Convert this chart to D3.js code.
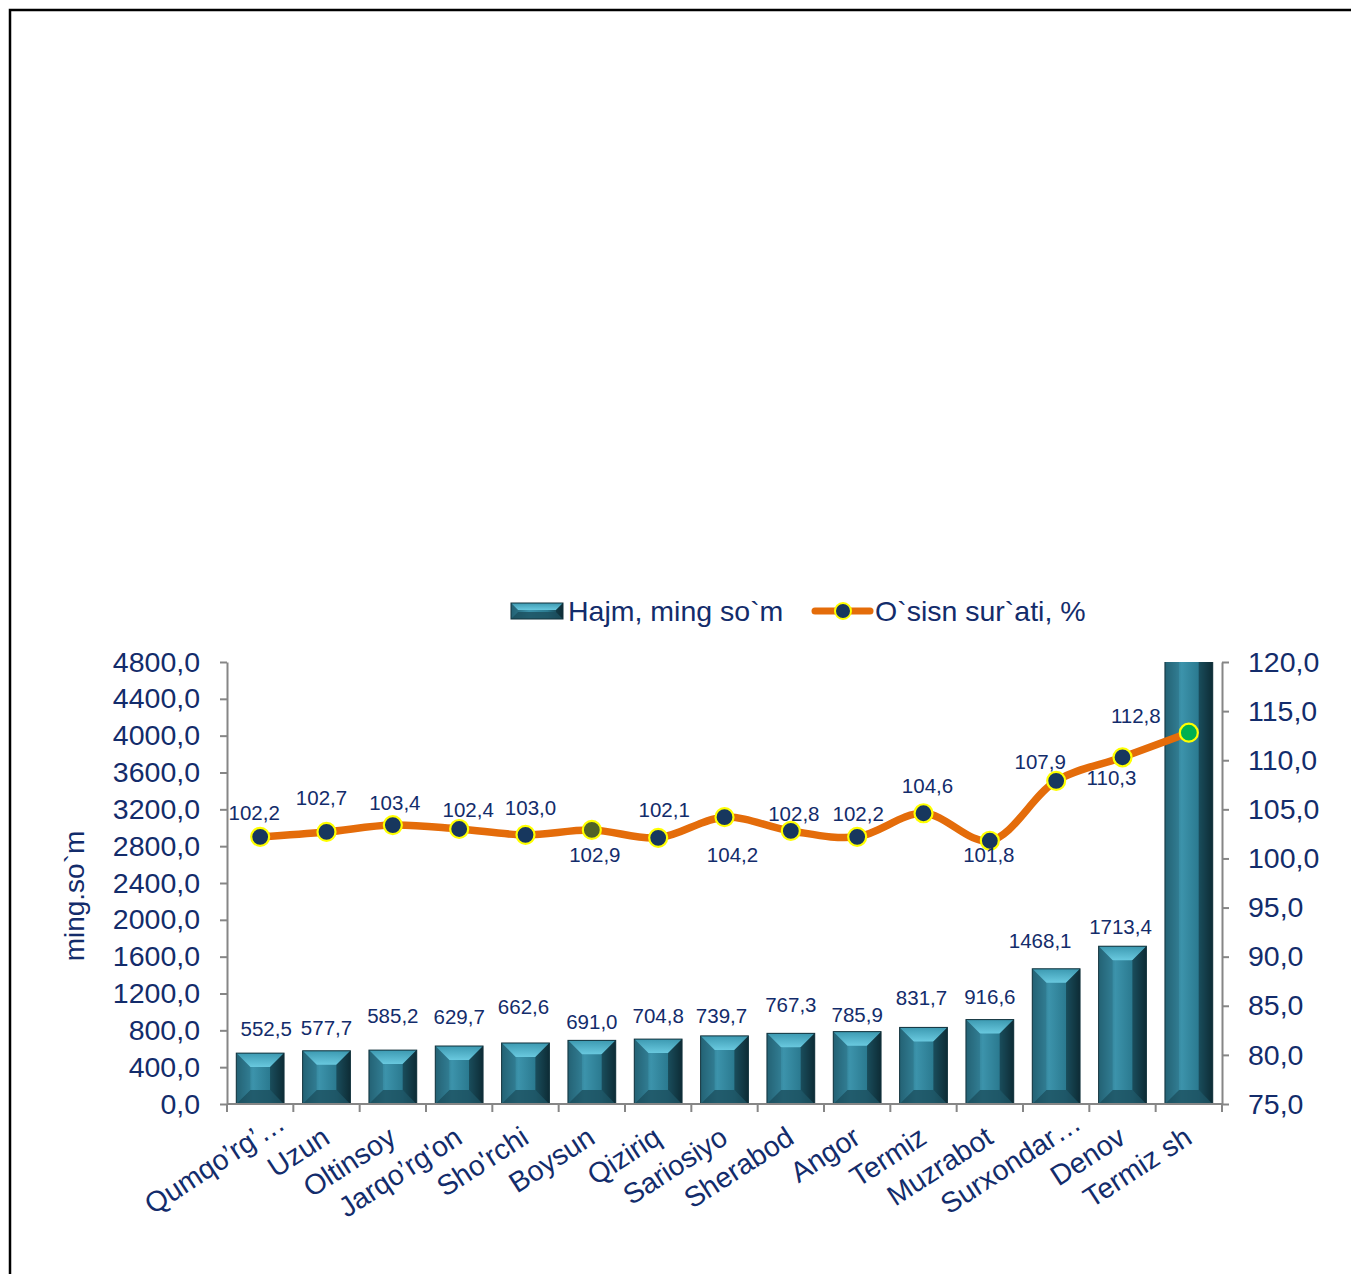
<!DOCTYPE html>
<html>
<head>
<meta charset="utf-8">
<script src="https://cdn.jsdelivr.net/npm/d3@7/dist/d3.min.js"></script>
<style>
  body { margin: 0; background: #fff; }
  svg { display: block; font-family: "Liberation Sans", Arial, sans-serif; }
</style>
</head>
<body>
<div id="chart"></div>
<script>
// Districts (x axis)
const districts = ["Qumqo\u2019rg\u2019\u2026", "Uzun", "Oltinsoy", "Jarqo\u2019rg'on", "Sho'rchi", "Boysun",
    "Qiziriq", "Sariosiyo", "Sherabod", "Angor", "Termiz", "Muzrabot", "Surxondar\u2026", "Denov", "Termiz sh"];

// Volume, thousand so'm (last bar runs off the top, no label shown)
const volume = [552.5, 577.7, 585.2, 629.7, 662.6, 691.0, 704.8, 739.7, 767.3, 785.9, 831.7, 916.6, 1468.1, 1713.4, 5100];
const volumeLabels = ["552,5", "577,7", "585,2", "629,7", "662,6", "691,0", "704,8", "739,7", "767,3", "785,9",
    "831,7", "916,6", "1468,1", "1713,4", ""];

// Growth rate, % (point heights as drawn) and the label texts as printed
const growth = [102.2, 102.7, 103.4, 103.0, 102.4, 102.9, 102.1, 104.2, 102.8, 102.2, 104.6, 101.8, 107.9, 110.3, 112.8];
const growthLabels = ["102,2", "102,7", "103,4", "102,4", "103,0", "102,9", "102,1", "104,2", "102,8", "102,2",
    "104,6", "101,8", "107,9", "110,3", "112,8"];

const leftTicks = d3.range(0, 4801, 400);
const rightTicks = d3.range(75, 121, 5);

const seriesNames = ["Hajm, ming so`m", "O`sisn sur`ati, %"];
const yTitle = "ming.so`m";

// manual label placement (Excel labels were dragged around)
const growthLabelOffsets = [[-6, -24], [-5, -34], [2, -22], [9, -19], [5, -27], [3, 25], [6, -28], [8, 38],
    [3, -17], [1, -23], [4, -27], [-1, 14], [-16, -19], [-11, 21], [-53, -17]];
const volumeLabelOffsets = [[6, -24], [0, -23], [0, -34], [0, -29], [-2, -36], [0, -19], [0, -23], [-3, -20],
    [0, -29], [0, -17], [-2, -30], [0, -23], [-16, -28], [-2, -19], [0, -20]];

const W = 1351, H = 1274;
const plot = { left: 227, right: 1222, top: 662, bottom: 1104 };
const textColor = "#132c6b";
const axisColor = "#868686";
const bigFont = 28.5;
const labelFont = 20.5;

const fmt = v => d3.format(".1f")(v).replace(".", ",");

const svg = d3.select("#chart").append("svg")
    .attr("width", W)
    .attr("height", H);

const defs = svg.append("defs");

// bar body gradient
const grad = defs.append("linearGradient").attr("id", "barGrad")
    .attr("x1", "0%").attr("x2", "100%").attr("y1", "0%").attr("y2", "0%");
grad.append("stop").attr("offset", "0%").attr("stop-color", "#1f5a6b");
grad.append("stop").attr("offset", "35%").attr("stop-color", "#3c93ab");
grad.append("stop").attr("offset", "70%").attr("stop-color", "#2b7a90");
grad.append("stop").attr("offset", "100%").attr("stop-color", "#0f2f39");

const topGrad = defs.append("linearGradient").attr("id", "topGrad")
    .attr("x1", "0%").attr("x2", "0%").attr("y1", "0%").attr("y2", "100%");
topGrad.append("stop").attr("offset", "0%").attr("stop-color", "#3d9bb3");
topGrad.append("stop").attr("offset", "100%").attr("stop-color", "#6ccce2");

defs.append("clipPath").attr("id", "plotClip")
    .append("rect")
    .attr("x", plot.left).attr("y", plot.top)
    .attr("width", plot.right - plot.left).attr("height", plot.bottom - plot.top);

// outer frame
svg.append("rect")
    .attr("x", 10).attr("y", 10)
    .attr("width", W + 20).attr("height", H + 20)
    .attr("fill", "none").attr("stroke", "#000").attr("stroke-width", 2.5);

// scales
const x = d3.scaleBand()
    .domain(districts)
    .range([plot.left, plot.right])
    .paddingInner(0.28)
    .paddingOuter(0.14);

const yLeft = d3.scaleLinear().domain([0, 4800]).range([plot.bottom, plot.top]);
const yRight = d3.scaleLinear().domain([75, 120]).range([plot.bottom, plot.top]);

// beveled bar
function drawBar(g, x0, y0, w, h, bevel) {
    const b = Math.min(bevel, h / 2, w / 2);
    g.append("rect").attr("x", x0).attr("y", y0).attr("width", w).attr("height", h)
        .attr("fill", "url(#barGrad)");
    // top bevel (light)
    g.append("polygon")
        .attr("points", [[x0, y0], [x0 + w, y0], [x0 + w - b, y0 + b], [x0 + b, y0 + b]].join(" "))
        .attr("fill", "url(#topGrad)").attr("opacity", 0.95);
    // bottom bevel (dark)
    g.append("polygon")
        .attr("points", [[x0, y0 + h], [x0 + w, y0 + h], [x0 + w - b, y0 + h - b], [x0 + b, y0 + h - b]].join(" "))
        .attr("fill", "#1b4f5e").attr("opacity", 0.8);
    // right bevel (darkest)
    g.append("polygon")
        .attr("points", [[x0 + w, y0], [x0 + w, y0 + h], [x0 + w - b, y0 + h - b], [x0 + w - b, y0 + b]].join(" "))
        .attr("fill", "#0d2a33").attr("opacity", 0.55);
    // left bevel
    g.append("polygon")
        .attr("points", [[x0, y0], [x0, y0 + h], [x0 + b, y0 + h - b], [x0 + b, y0 + b]].join(" "))
        .attr("fill", "#2a6c80").attr("opacity", 0.45);
    g.append("rect").attr("x", x0).attr("y", y0).attr("width", w).attr("height", h)
        .attr("fill", "none").attr("stroke", "#12323c").attr("stroke-width", 1);
}

// bars
const barsG = svg.append("g").attr("clip-path", "url(#plotClip)");
volume.forEach((v, i) => {
    const g = barsG.append("g");
    drawBar(g, x(districts[i]), yLeft(v), x.bandwidth(), yLeft(0) - yLeft(v), 14);
});

// axes
const leftAxis = svg.append("g")
    .attr("transform", `translate(${plot.left},0)`)
    .call(d3.axisLeft(yLeft).tickValues(leftTicks).tickFormat(fmt).tickSize(7).tickSizeOuter(0).tickPadding(20));
const rightAxis = svg.append("g")
    .attr("transform", `translate(${plot.right},0)`)
    .call(d3.axisRight(yRight).tickValues(rightTicks).tickFormat(fmt).tickSize(7).tickSizeOuter(0).tickPadding(19));

[leftAxis, rightAxis].forEach(a => {
    a.select(".domain").attr("stroke", axisColor).attr("stroke-width", 2);
    a.selectAll(".tick line").attr("stroke", axisColor).attr("stroke-width", 2);
    a.selectAll(".tick text").attr("fill", textColor).attr("font-size", bigFont)
        .attr("font-family", "Liberation Sans, Arial, sans-serif");
});

// category axis
const xAxisG = svg.append("g");
xAxisG.append("line")
    .attr("x1", plot.left).attr("x2", plot.right)
    .attr("y1", plot.bottom).attr("y2", plot.bottom)
    .attr("stroke", axisColor).attr("stroke-width", 2);
const step = x.step();
xAxisG.selectAll("line.tk")
    .data(d3.range(districts.length + 1))
    .enter().append("line")
    .attr("class", "tk")
    .attr("x1", i => plot.left + i * step).attr("x2", i => plot.left + i * step)
    .attr("y1", plot.bottom).attr("y2", plot.bottom + 8)
    .attr("stroke", axisColor).attr("stroke-width", 2);
// truncated labels sit a little further right in the original
xAxisG.selectAll("text")
    .data(districts)
    .enter().append("text")
    .attr("transform", d => `translate(${x(d) + x.bandwidth() / 2 + 5},${plot.bottom + 38}) rotate(-33)`)
    .attr("dx", d => (d.endsWith("\u2026") ? 26 : 0))
    .attr("text-anchor", "end")
    .attr("fill", textColor)
    .attr("font-size", bigFont)
    .text(d => d);

// y title
svg.append("text")
    .attr("transform", `translate(84,${(plot.top + plot.bottom) / 2 + 13}) rotate(-90)`)
    .attr("text-anchor", "middle")
    .attr("fill", textColor)
    .attr("font-size", 28)
    .text(yTitle);

// volume labels
svg.append("g").selectAll("text")
    .data(volume)
    .enter().append("text")
    .filter((d, i) => volumeLabels[i] !== "")
    .attr("x", (d, i) => x(districts[i]) + x.bandwidth() / 2 + volumeLabelOffsets[i][0])
    .attr("y", (d, i) => yLeft(d) + volumeLabelOffsets[i][1])
    .attr("dy", "0.35em")
    .attr("text-anchor", "middle")
    .attr("fill", textColor)
    .attr("font-size", labelFont)
    .text((d, i) => volumeLabels[i]);

// growth line
const cx = i => x(districts[i]) + x.bandwidth() / 2;
const line = d3.line()
    .x((d, i) => cx(i))
    .y(d => yRight(d))
    .curve(d3.curveCatmullRom.alpha(0.5));

svg.append("path")
    .datum(growth)
    .attr("d", line)
    .attr("fill", "none")
    .attr("stroke", "#e46c0a")
    .attr("stroke-width", 7.5)
    .attr("stroke-linejoin", "round");

const markerFill = i => (i === 5 ? "#4f6228" : i === growth.length - 1 ? "#00b050" : "#17375e");
svg.append("g").selectAll("circle")
    .data(growth)
    .enter().append("circle")
    .attr("cx", (d, i) => cx(i))
    .attr("cy", d => yRight(d))
    .attr("r", 9)
    .attr("fill", (d, i) => markerFill(i))
    .attr("stroke", "#ffff00")
    .attr("stroke-width", 2.2);

svg.append("g").selectAll("text")
    .data(growth)
    .enter().append("text")
    .attr("x", (d, i) => cx(i) + growthLabelOffsets[i][0])
    .attr("y", (d, i) => yRight(d) + growthLabelOffsets[i][1])
    .attr("dy", "0.35em")
    .attr("text-anchor", "middle")
    .attr("fill", textColor)
    .attr("font-size", labelFont)
    .text((d, i) => growthLabels[i]);

// legend
const legend = svg.append("g");
drawBar(legend.append("g"), 511, 603, 52, 16, 7);
legend.append("text")
    .attr("x", 568).attr("y", 621)
    .attr("fill", textColor).attr("font-size", bigFont)
    .text(seriesNames[0]);
legend.append("line")
    .attr("x1", 815).attr("x2", 870).attr("y1", 611).attr("y2", 611)
    .attr("stroke", "#e46c0a").attr("stroke-width", 7).attr("stroke-linecap", "round");
legend.append("circle")
    .attr("cx", 843).attr("cy", 611).attr("r", 8)
    .attr("fill", "#17375e").attr("stroke", "#ffff00").attr("stroke-width", 2);
legend.append("text")
    .attr("x", 875).attr("y", 621)
    .attr("fill", textColor).attr("font-size", bigFont)
    .text(seriesNames[1]);
</script>
</body>
</html>
